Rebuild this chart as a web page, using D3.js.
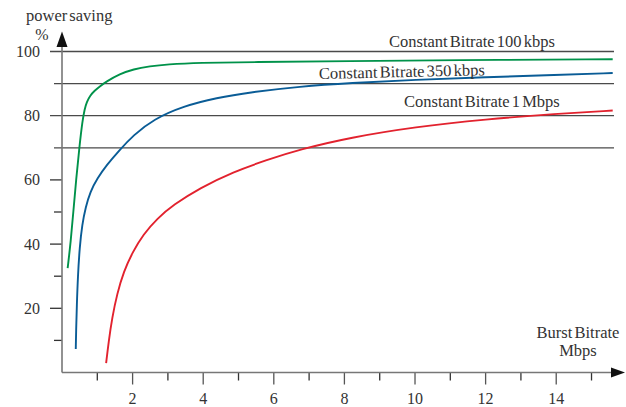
<!DOCTYPE html>
<html>
<head>
<meta charset="utf-8">
<script src="https://cdn.jsdelivr.net/npm/d3@7"></script>
<style>
  body { margin: 0; background: #fff; }
  text { font-family: "Liberation Serif", "Times New Roman", serif; fill: #333; }
</style>
</head>
<body>
<div id="chart"></div>
<script>
// burst bitrate (Mbps) vs power saving (%)
var green100x = [0.16, 0.25, 0.32, 0.40, 0.49, 0.58, 0.64, 0.70, 0.80, 0.92, 1.08, 1.25, 1.64, 2.02, 2.49, 2.97, 3.90, 5.33, 8.16, 11.0, 15.6];
var green100y = [32.5, 41, 50, 60, 70, 78.5, 82, 84.3, 86.3, 87.8, 89.2, 90.6, 93, 94.5, 95.4, 96.0, 96.5, 96.7, 97.0, 97.3, 97.6];

var blue350x = [0.39, 0.40, 0.42, 0.45, 0.50, 0.57, 0.67, 0.80, 1.00, 1.27, 1.62, 2.02, 2.59, 3.44, 4.38, 5.33, 6.74, 8.16, 10, 12, 14, 15.6];
var blue350y = [7.3, 13, 21, 30, 39, 46, 51.5, 56.3, 60.5, 64.7, 69.2, 73.9, 78.9, 83.0, 85.6, 87.3, 89.1, 90.2, 91.2, 92.0, 92.7, 93.3];

var red1mx = [1.25, 1.32, 1.42, 1.56, 1.75, 2.0, 2.3, 2.7, 3.15, 3.91, 4.85, 5.80, 6.74, 8.16, 10, 12, 14, 15.6];
var red1my = [2.9, 9.5, 17, 24.5, 31.5, 37.5, 43, 48, 52.2, 57.5, 62.5, 66.2, 69.5, 73.2, 76.5, 78.9, 80.6, 81.6];

var seriesNames = ['Constant Bitrate 100 kbps', 'Constant Bitrate 350 kbps', 'Constant Bitrate 1 Mbps'];
var xTicks = [2, 4, 6, 8, 10, 12, 14];
var xMinor = [1, 3, 5, 7, 9, 11, 13, 15];
var yLabels = [20, 40, 60, 80, 100];
var yMinor = [10, 30, 50];
var gridLines = [70, 80, 90, 100];

var width = 626, height = 407;

var svg = d3.select('#chart')
  .append('svg')
  .attr('width', width)
  .attr('height', height);

var x = d3.scaleLinear().domain([0, 15.6]).range([62, 612.7]);
var y = d3.scaleLinear().domain([0, 100]).range([372.5, 51.5]);

// grid lines
svg.selectAll('.grid')
  .data(gridLines)
  .enter()
  .append('line')
  .attr('x1', function (d) { return d % 20 === 0 ? 50 : 54; })
  .attr('x2', 614)
  .attr('y1', function (d) { return y(d); })
  .attr('y2', function (d) { return y(d); })
  .attr('stroke', '#4a4a4a')
  .attr('stroke-width', 1.3);

// y ticks
svg.selectAll('.ytick')
  .data(yLabels.filter(function (d) { return d < 80; }))
  .enter()
  .append('line')
  .attr('x1', 50).attr('x2', 62)
  .attr('y1', function (d) { return y(d); })
  .attr('y2', function (d) { return y(d); })
  .attr('stroke', '#333').attr('stroke-width', 1.3);

svg.selectAll('.yminor')
  .data(yMinor)
  .enter()
  .append('line')
  .attr('x1', 54).attr('x2', 62)
  .attr('y1', function (d) { return y(d); })
  .attr('y2', function (d) { return y(d); })
  .attr('stroke', '#333').attr('stroke-width', 1.3);

svg.selectAll('.ylabel')
  .data(yLabels)
  .enter()
  .append('text')
  .attr('x', 40)
  .attr('y', function (d) { return y(d) + 5.5; })
  .attr('text-anchor', 'end')
  .style('font-size', '16px')
  .text(function (d) { return d; });

// x ticks
svg.selectAll('.xtick')
  .data(xTicks)
  .enter()
  .append('line')
  .attr('x1', function (d) { return x(d); })
  .attr('x2', function (d) { return x(d); })
  .attr('y1', y(0)).attr('y2', y(0) + 12)
  .attr('stroke', '#555').attr('stroke-width', 1.3);

svg.selectAll('.xminor')
  .data(xMinor)
  .enter()
  .append('line')
  .attr('x1', function (d) { return x(d); })
  .attr('x2', function (d) { return x(d); })
  .attr('y1', y(0)).attr('y2', y(0) + 8)
  .attr('stroke', '#333').attr('stroke-width', 1.3);

svg.selectAll('.xlabel')
  .data(xTicks)
  .enter()
  .append('text')
  .attr('x', function (d) { return x(d); })
  .attr('y', 404)
  .attr('text-anchor', 'middle')
  .style('font-size', '16px')
  .text(function (d) { return d; });

// axes with arrows
svg.append('line')
  .attr('x1', x(0)).attr('x2', x(0))
  .attr('y1', y(0)).attr('y2', 46)
  .attr('stroke', '#777').attr('stroke-width', 1.6);
svg.append('path')
  .attr('d', 'M' + (x(0) - 5.5) + ',47 L' + x(0) + ',31.5 L' + (x(0) + 5.5) + ',47 Z')
  .attr('fill', '#111');

svg.append('line')
  .attr('x1', x(0)).attr('x2', 612)
  .attr('y1', y(0)).attr('y2', y(0))
  .attr('stroke', '#777').attr('stroke-width', 1.6);
svg.append('path')
  .attr('d', 'M611,' + (y(0) - 5) + ' L625,' + y(0) + ' L611,' + (y(0) + 5) + ' Z')
  .attr('fill', '#111');

// curves
var line = d3.line()
  .x(function (d) { return x(d[0]); })
  .y(function (d) { return y(d[1]); })
  .curve(d3.curveBasis);

var curves = [
  { xs: green100x, ys: green100y, color: '#00924a' },
  { xs: blue350x, ys: blue350y, color: '#0a5c96' },
  { xs: red1mx, ys: red1my, color: '#e2222e' }
];

svg.selectAll('.curve')
  .data(curves)
  .enter()
  .append('path')
  .attr('d', function (d) { return line(d3.zip(d.xs, d.ys)); })
  .attr('fill', 'none')
  .attr('stroke', function (d) { return d.color; })
  .attr('stroke-width', 1.9);

// series labels
var labelPos = [[389, 47, 0], [319, 79, -1.3], [404, 107, 0]];
svg.selectAll('.slabel')
  .data(seriesNames)
  .enter()
  .append('text')
  .attr('transform', function (d, i) {
    var p = labelPos[i];
    return 'translate(' + p[0] + ',' + p[1] + ') rotate(' + p[2] + ')';
  })
  .style('font-size', '16.5px')
  .style('word-spacing', '-2px')
  .text(function (d) { return d; });

// axis titles
svg.append('text')
  .attr('x', 26).attr('y', 21)
  .style('font-size', '16.5px')
  .style('word-spacing', '-2px')
  .text('power saving');
svg.append('text')
  .attr('x', 42).attr('y', 40)
  .attr('text-anchor', 'middle')
  .style('font-size', '16px')
  .text('%');

svg.append('text')
  .attr('x', 578).attr('y', 338)
  .attr('text-anchor', 'middle')
  .style('font-size', '16.5px')
  .style('word-spacing', '-2px')
  .text('Burst Bitrate');
svg.append('text')
  .attr('x', 578).attr('y', 356)
  .attr('text-anchor', 'middle')
  .style('font-size', '16.5px')
  .text('Mbps');
</script>
</body>
</html>
